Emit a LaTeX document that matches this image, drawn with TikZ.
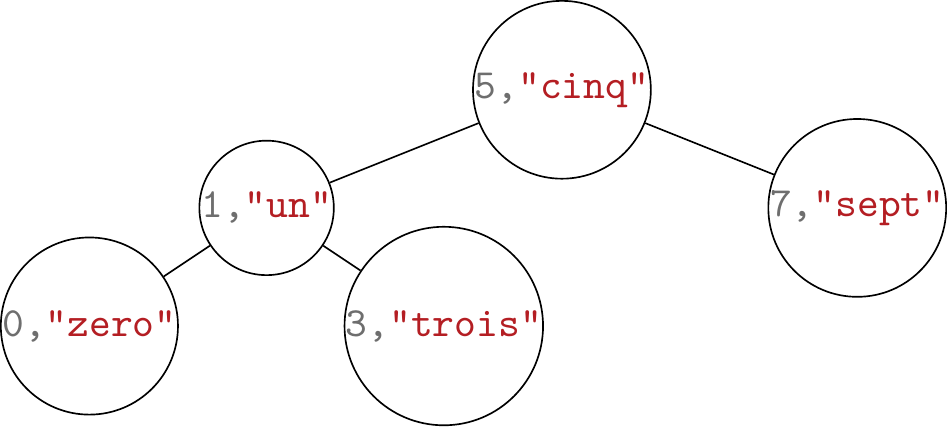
\documentclass[tikz,border=0pt]{standalone}
\usepackage{tikz}
\usepackage{xcolor}
\definecolor{keygray}{RGB}{110,110,110}
\definecolor{valred}{RGB}{180,30,35}
\newcommand{\kv}[2]{\textcolor{keygray}{#1},\textcolor{valred}{"#2"}}

\begin{document}
\begin{tikzpicture}[main/.style = {draw, circle, inner sep=0pt, font=\ttfamily, text=keygray}]
        \node[main] at (0, 0) (5) {\kv{5}{cinq}};
        \node[main] at (-2.5, -1) (1) {\kv{1}{un}};
        \node[main] at (2.5, -1) (7) {\kv{7}{sept}};
        \node[main] at (-4, -2) (0) {\kv{0}{zero}};
        \node[main] at (-1, -2) (3) {\kv{3}{trois}};
        \draw (5) -- (1);
        \draw (5) -- (7);
        \draw (1) -- (0);
        \draw (1) -- (3);
        \end{tikzpicture}
\end{document}
